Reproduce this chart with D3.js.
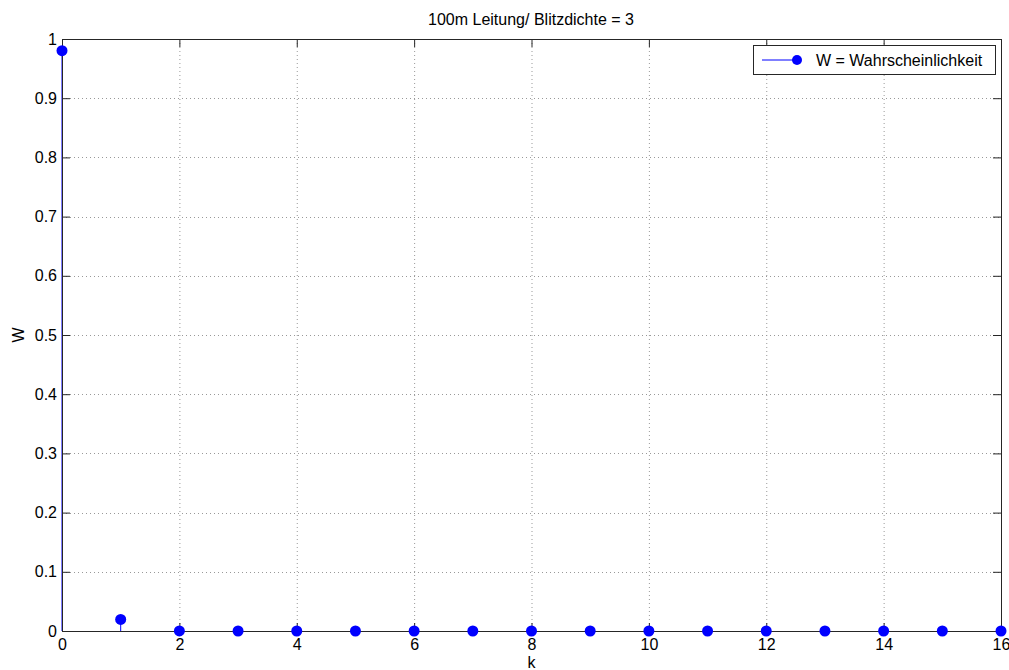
<!DOCTYPE html>
<html>
<head>
<meta charset="utf-8">
<script src="https://cdn.jsdelivr.net/npm/d3@7"></script>
<style>
  html, body { margin: 0; padding: 0; background: #fff; }
  svg { display: block; }
  text { font-family: "Liberation Sans", Arial, sans-serif; fill: #000; }
</style>
</head>
<body>
<svg id="chart" width="1009" height="670"></svg>
<script>
// Probability W of k lightning strikes on a 100 m line (density 3)
const kValues = [0, 1, 2, 3, 4, 5, 6, 7, 8, 9, 10, 11, 12, 13, 14, 15, 16];
const wValues = [0.9802, 0.0196, 0.000196, 0.0000013, 0, 0, 0, 0, 0, 0, 0, 0, 0, 0, 0, 0, 0];
const xTicks = [0, 2, 4, 6, 8, 10, 12, 14, 16];
const yTicks = [0, 0.1, 0.2, 0.3, 0.4, 0.5, 0.6, 0.7, 0.8, 0.9, 1];
const titleText = "100m Leitung/ Blitzdichte = 3";
const xLabel = "k";
const yLabel = "W";
const legendLabel = "W = Wahrscheinlichkeit";

const svg = d3.select("#chart");
const m = { left: 62, top: 39, right: 1001, bottom: 631 };
const x = d3.scaleLinear().domain([0, 16]).range([m.left, m.right]);
const y = d3.scaleLinear().domain([0, 1]).range([m.bottom, m.top]);
const blue = "#0000ff";
const tickLen = 8;
const fs = "16px";

// grid
const grid = svg.append("g");
grid.selectAll("line.gx").data(xTicks.slice(1, -1)).join("line")
  .attr("x1", d => x(d) + 0.5).attr("x2", d => x(d) + 0.5)
  .attr("y1", m.top).attr("y2", m.bottom)
  .attr("stroke", "#999").attr("stroke-width", 1).attr("stroke-dasharray", "1,3");
grid.selectAll("line.gy").data(yTicks.slice(1, -1)).join("line")
  .attr("y1", d => Math.round(y(d)) + 0.5).attr("y2", d => Math.round(y(d)) + 0.5)
  .attr("x1", m.left).attr("x2", m.right)
  .attr("stroke", "#999").attr("stroke-width", 1).attr("stroke-dasharray", "1,3");

// stems
const pts = kValues.map((k, i) => ({ k, w: wValues[i] }));
svg.append("g").selectAll("line").data(pts).join("line")
  .attr("x1", d => x(d.k)).attr("x2", d => x(d.k))
  .attr("y1", y(0)).attr("y2", d => y(d.w))
  .attr("stroke", blue).attr("stroke-width", 1);

// axes (inward ticks on all four sides)
const axisStyle = g => {
  g.select(".domain").remove();
  g.selectAll(".tick line").attr("stroke", "#262626");
  g.selectAll(".tick text").style("font-size", fs).style("font-family", "Liberation Sans, Arial, sans-serif").attr("fill", "#000");
};
svg.append("g").attr("transform", `translate(0,${m.bottom})`)
  .call(d3.axisBottom(x).tickValues(xTicks).tickSizeInner(-tickLen).tickSizeOuter(0).tickPadding(8).tickFormat(d3.format("d")))
  .call(axisStyle);
svg.append("g").attr("transform", `translate(0,${m.top})`)
  .call(d3.axisTop(x).tickValues(xTicks).tickSizeInner(-tickLen).tickSizeOuter(0).tickFormat(""))
  .call(axisStyle);
svg.append("g").attr("transform", `translate(${m.left},0)`)
  .call(d3.axisLeft(y).tickValues(yTicks).tickSizeInner(-tickLen).tickSizeOuter(0).tickPadding(5).tickFormat(d => d === 0 || d === 1 ? d3.format("d")(d) : d3.format(".1f")(d)))
  .call(axisStyle);
svg.append("g").attr("transform", `translate(${m.right},0)`)
  .call(d3.axisRight(y).tickValues(yTicks).tickSizeInner(-tickLen).tickSizeOuter(0).tickFormat(""))
  .call(axisStyle);

// frame
svg.append("rect").attr("x", m.left + 0.5).attr("y", m.top + 0.5)
  .attr("width", m.right - m.left).attr("height", m.bottom - m.top)
  .attr("fill", "none").attr("stroke", "#262626").attr("stroke-width", 1);

// markers
svg.append("g").selectAll("circle").data(pts).join("circle")
  .attr("cx", d => x(d.k)).attr("cy", d => y(d.w)).attr("r", 5.5)
  .attr("fill", blue);

// title and axis labels
svg.append("text").attr("x", 531).attr("y", 25).attr("text-anchor", "middle")
  .style("font-size", fs).text(titleText);
svg.append("text").attr("x", x(8)).attr("y", 668).attr("text-anchor", "middle")
  .style("font-size", fs).text(xLabel);
svg.append("text").attr("transform", `translate(24,${(m.top + m.bottom) / 2}) rotate(-90)`)
  .attr("text-anchor", "middle").style("font-size", fs).text(yLabel);

// legend
const lg = svg.append("g").attr("transform", "translate(753,45)");
lg.append("rect").attr("x", 0.5).attr("y", 0.5).attr("width", 242).attr("height", 29)
  .attr("fill", "#fff").attr("stroke", "#262626");
lg.append("line").attr("x1", 9).attr("x2", 44).attr("y1", 15).attr("y2", 15)
  .attr("stroke", blue).attr("stroke-width", 1);
lg.append("circle").attr("cx", 44).attr("cy", 15).attr("r", 5).attr("fill", blue);
lg.append("text").attr("x", 63).attr("y", 21).style("font-size", fs).text(legendLabel);
</script>
</body>
</html>
